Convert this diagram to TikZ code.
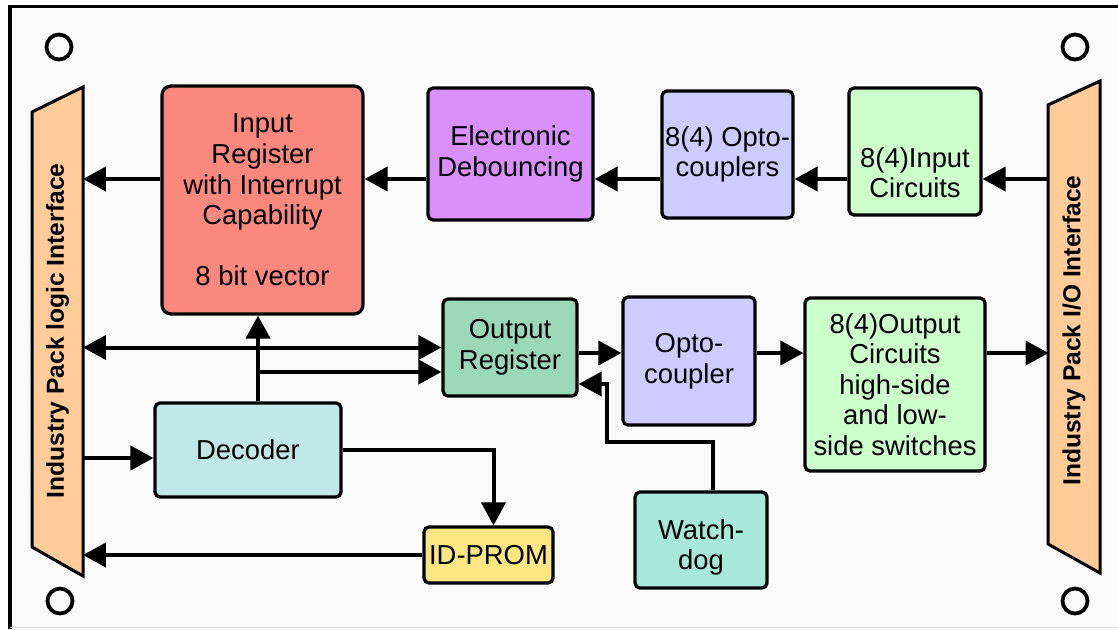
\documentclass[tikz,border=0pt]{standalone}
\usepackage{fontspec}
\setmainfont{Liberation Sans}
\usetikzlibrary{arrows.meta}

\definecolor{bgcol}{RGB}{250,250,250}
\definecolor{ifcol}{RGB}{255,204,153}
\definecolor{inregcol}{RGB}{250,136,126}
\definecolor{debcol}{RGB}{216,144,250}
\definecolor{optocol}{RGB}{204,204,255}
\definecolor{circcol}{RGB}{204,255,204}
\definecolor{outregcol}{RGB}{154,216,184}
\definecolor{deccol}{RGB}{192,232,232}
\definecolor{promcol}{RGB}{250,230,130}
\definecolor{wdcol}{RGB}{168,232,216}

\begin{document}
\begin{tikzpicture}[x=0.02cm, y=-0.02cm, line width=0.08cm,
    >={Triangle[length=0.46cm,width=0.48cm]},
    box/.style={draw, line width=0.065cm, rounded corners=0.1cm, align=center,
      inner sep=0pt, font=\fontsize{15.6}{17.4}\selectfont},
    side/.style={rotate=90, minimum height=1.02cm, inner sep=0pt, outer sep=0pt,
      font=\fontsize{14}{16}\selectfont\bfseries}]
    \useasboundingbox (0,0) rectangle (1118,629);
    \fill[bgcol] (10,6) rectangle (1118,629);
    \draw[line width=0.07cm] (1118,6.5) -- (10,6.5) -- (10,629);
    \draw[line width=0.02cm, black!12] (10,627.5) -- (1118,627.5);

    % mounting holes
    \foreach \x/\y in {59/47, 1075/47, 60/601, 1075/601}
        \draw[line width=0.075cm] (\x,\y) circle[radius=0.25cm];

    % the two interfaces
    \draw[line width=0.06cm, fill=ifcol] (32,112) -- (83,87) -- (83,576) -- (32,547) -- cycle;
    \draw[line width=0.06cm, fill=ifcol] (1048,105) -- (1100,81) -- (1100,573) -- (1048,544) -- cycle;
    \node[side] (lif) at (57.5,331) {Industry Pack logic Interface};
    \node[side] (rif) at (1074,330.5) {Industry Pack I/O Interface};

    \node[box, fill=inregcol, rounded corners=0.18cm, minimum width=4.02cm, minimum height=4.56cm]
        (inreg) at (262.5,200) {Input\\Register\\with Interrupt\\Capability\\[0.61cm]8 bit vector};
    \node[box, fill=debcol, minimum width=3.3cm, minimum height=2.64cm]
        (debounce) at (510.5,154) {Electronic\\Debouncing};
    \node[box, fill=optocol, minimum width=2.62cm, minimum height=2.54cm]
        (optos) at (727.5,154.5) {8(4) Opto-\\couplers};
    \node[box, fill=circcol, minimum width=2.64cm, minimum height=2.54cm]
        (incirc) at (915,151.5) {\rule{0pt}{1.25cm}8(4)Input\\Circuits};
    \node[box, fill=outregcol, minimum width=2.68cm, minimum height=1.94cm]
        (outreg) at (510,347.5) {Output\\Register};
    \node[box, fill=optocol, minimum width=2.64cm, minimum height=2.56cm]
        (opto) at (689,361) {Opto-\\coupler};
    \node[box, fill=circcol, minimum width=3.6cm, minimum height=3.46cm]
        (outcirc) at (895,384.5) {8(4)Output\\Circuits\\high-side\\and low-\\side switches};
    \node[box, fill=deccol, minimum width=3.72cm, minimum height=1.88cm]
        (decoder) at (248,450) {Decoder};
    \node[box, fill=promcol, minimum width=2.58cm, minimum height=1.12cm]
        (idprom) at (488.5,555) {ID-PROM};
    \node[box, fill=wdcol, minimum width=2.64cm, minimum height=1.92cm]
        (watchdog) at (701,540) {\rule{0pt}{0.7cm}Watch-\\dog};

    \coordinate (row1) at (0,179);
    \coordinate (row2) at (0,353);
    \coordinate (decin) at (0,458);
    \coordinate (dx) at (258,372);
    \coordinate (wd) at (713,442);
    \coordinate (wd2) at (607,384);

    % input path
    \draw[->] (rif.north |- row1) -- (incirc.east |- row1);
    \draw[->] (incirc.west |- row1) -- (optos.east |- row1);
    \draw[->] (optos.west |- row1) -- (debounce.east |- row1);
    \draw[->] (debounce.west |- row1) -- (inreg.east |- row1);
    \draw[->] (inreg.west |- row1) -- (lif.south |- row1);

    % output path
    \draw[<->] (lif.south |- outreg.west) -- (outreg.west);
    \draw[->] (outreg.east |- row2) -- (opto.west |- row2);
    \draw[->] (opto.east |- row2) -- (outcirc.west |- row2);
    \draw[->] (outcirc.east |- row2) -- (rif.north |- row2);

    % decoder and prom
    \draw[->] (decoder.north -| dx) -- (inreg.south -| dx);
    \draw[->] (dx) -- (outreg.west |- dx);
    \draw[->] (lif.south |- decin) -- (decoder.west |- decin);
    \draw[->] (decoder.east) -| ([xshift=0.1cm]idprom.north);
    \draw[->] (idprom.west) -- (idprom.west -| lif.south);

    % watchdog
    \draw[->] (watchdog.north -| wd) -- (wd) -| (wd2) -- (outreg.east |- wd2);
\end{tikzpicture}
\end{document}
